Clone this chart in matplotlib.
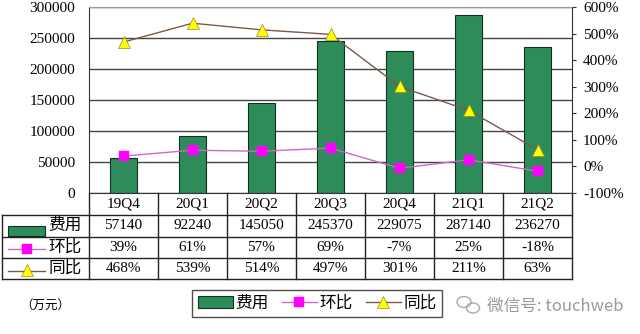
import numpy as np
import matplotlib.pyplot as plt
from matplotlib.patches import Rectangle, Ellipse
from matplotlib.lines import Line2D

plt.rcParams['font.family'] = ['Liberation Serif', 'Noto Sans CJK SC']

# quarterly data
quarters = ['19Q4', '20Q1', '20Q2', '20Q3', '20Q4', '21Q1', '21Q2']
cost = [57140, 92240, 145050, 245370, 229075, 287140, 236270]   # 万元
qoq = [39, 61, 57, 69, -7, 25, -18]      # 环比, %
yoy = [468, 539, 514, 497, 301, 211, 63]  # 同比, %

row_names = ['费用', '环比', '同比']

bar_color = '#2e8b5a'
qoq_line = '#c86ac8'
yoy_line = '#7a5a4a'
fs = 11
sq = dict(marker='s', ms=7.5, mfc='#ff00ff', mec='#ff00ff', mew=0.3)
tri = dict(marker='^', ms=8, mfc='#ffff00', mec='#9a8a20', mew=0.5)

W, H = 640, 334
fig = plt.figure(figsize=(W / 100, H / 100), dpi=100)
ax = fig.add_axes([89 / W, 1 - 193 / H, 483 / W, 186 / H])

x = np.arange(len(quarters))
ax.bar(x, cost, width=0.4, color=bar_color, edgecolor='#123020', linewidth=0.8, zorder=2)
ax.set_xlim(-0.5, len(quarters) - 0.5)
ax.set_ylim(0, 300000)
ax.set_yticks(np.arange(0, 300001, 50000))
ax.set_xticks([])
ax.yaxis.grid(True, color='#444444', linewidth=1.0, zorder=0)
ax.set_axisbelow(True)
ax.tick_params(axis='y', length=0, pad=10, labelsize=fs)
for s in ['left', 'right', 'bottom']:
    ax.spines[s].set_color('#333333')
ax.spines['top'].set_color('#999999')

ax2 = ax.twinx()
ax2.set_ylim(-100, 600)
ax2.set_yticks(np.arange(-100, 601, 100))
ax2.set_yticklabels([f'{v}%' for v in range(-100, 601, 100)])
ax2.tick_params(axis='y', length=3, pad=5, labelsize=fs, color='#333333')
ax2.plot(x, qoq, color=qoq_line, lw=1.0, zorder=3, **sq)
ax2.plot(x, yoy, color=yoy_line, lw=1.0, zorder=3, **tri)
for s in ax2.spines.values():
    s.set_visible(False)

# data table below the plot, columns aligned with the categories
tr = ax.get_xaxis_transform()
px = 1 / 186.0
rows_y = [0, -22 * px, -44 * px, -65 * px, -86 * px]
left = -0.5 - 87 / 69.0
right = len(quarters) - 0.5
lk = dict(transform=tr, clip_on=False, color='#222222', lw=1.0)

for yy in rows_y[1:]:
    ax.add_line(Line2D([left, right], [yy] * 2, **lk))
ax.add_line(Line2D([left, left], [rows_y[1], rows_y[4]], **lk))
for b in np.arange(-0.5, len(quarters)):
    ax.add_line(Line2D([b, b], [rows_y[0], rows_y[4]], **lk))

def mid(i):
    return (rows_y[i] + rows_y[i + 1]) / 2

for i, q in enumerate(quarters):
    ax.text(i, mid(0), q, transform=tr, ha='center', va='center', fontsize=fs)
    ax.text(i, mid(1), str(cost[i]), transform=tr, ha='center', va='center', fontsize=fs)
    ax.text(i, mid(2), f'{qoq[i]}%', transform=tr, ha='center', va='center', fontsize=fs)
    ax.text(i, mid(3), f'{yoy[i]}%', transform=tr, ha='center', va='center', fontsize=fs)

# row labels with their legend keys
lab_x = left + 46 / 69.0
for r, name in enumerate(row_names):
    ax.text(lab_x, mid(r + 1), name, transform=tr, ha='left', va='center', fontsize=fs + 1)
kx0, kx1 = left + 6 / 69.0, left + 43 / 69.0
ax.add_patch(Rectangle((kx0, rows_y[2] + 1 * px), kx1 - kx0, 10 * px, transform=tr,
                       clip_on=False, facecolor=bar_color, edgecolor='#123020', lw=0.8))
ky = mid(2) - 2 * px
ax.add_line(Line2D([kx0, kx1], [ky, ky], transform=tr, clip_on=False, color=qoq_line, lw=1.0))
ax.add_line(Line2D([(kx0 + kx1) / 2], [ky], transform=tr, clip_on=False, lw=0, **sq))
ky = mid(3) - 3 * px
ax.add_line(Line2D([kx0, kx1], [ky, ky], transform=tr, clip_on=False, color=yoy_line, lw=1.0))
ax.add_line(Line2D([(kx0 + kx1) / 2], [ky + 1 * px], transform=tr, clip_on=False, lw=0, **tri))

# legend at the bottom
handles = [Rectangle((0, 0), 1, 1, facecolor=bar_color, edgecolor='#123020', lw=0.8),
           Line2D([], [], color=qoq_line, lw=1.0, **sq),
           Line2D([], [], color=yoy_line, lw=1.0, **tri)]
leg = fig.legend(handles, row_names, loc='center', bbox_to_anchor=(317 / W, 1 - 303.5 / H),
                 ncol=3, fontsize=fs + 1, frameon=True, fancybox=False, handlelength=2.1,
                 handletextpad=0.15, columnspacing=0.8, borderpad=0.35, borderaxespad=0)
leg.get_frame().set_edgecolor('#222222')
leg.get_frame().set_linewidth(1.0)

fig.text(20 / W, 1 - 306 / H, '（万元）', fontsize=9, va='center', ha='left')

# watermark
fig.patches.append(Ellipse((464 / W, 1 - 302 / H), 14 / W, 11 / H, transform=fig.transFigure,
                           fill=False, edgecolor='#aaaaaa', lw=1.0))
fig.patches.append(Ellipse((473 / W, 1 - 308 / H), 13 / W, 10 / H, transform=fig.transFigure,
                           fill=False, edgecolor='#aaaaaa', lw=1.0))
fig.text(487 / W, 1 - 306 / H, '微信号: touchweb', fontsize=12, va='center', ha='left',
         color='#9a9a9a', family=['Noto Sans CJK SC', 'DejaVu Sans'])

fig.savefig('out.png', dpi=100)
